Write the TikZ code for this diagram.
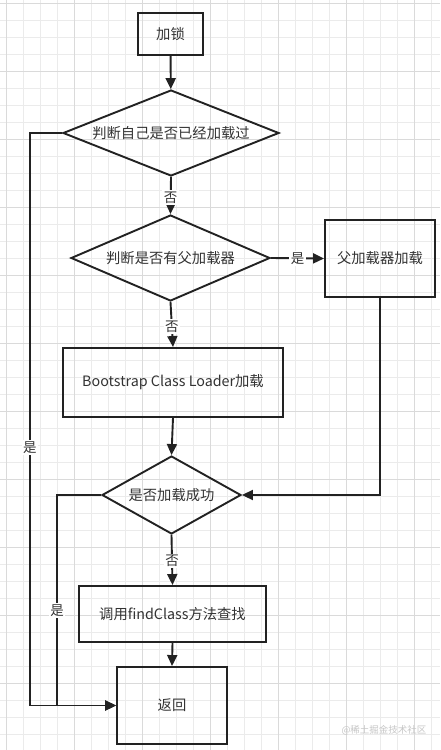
\documentclass[tikz,border=0pt]{standalone}
\usepackage{fontspec}
\setmainfont{Noto Sans CJK SC}
\usetikzlibrary{shapes.geometric,arrows.meta}
\definecolor{ink}{HTML}{222222}
\definecolor{txt}{HTML}{333333}
\definecolor{gridminor}{HTML}{EBEBEB}
\definecolor{gridmajor}{HTML}{DADADA}
\tikzset{
  box/.style={draw=ink,line width=1.9pt,rectangle,inner sep=0pt,text=txt,font=\fontsize{14.3}{17}\selectfont},
  choice/.style={draw=ink,line width=1.9pt,diamond,inner sep=0pt,text=txt,font=\fontsize{14.3}{17}\selectfont},
  flow/.style={draw=ink,line width=1.9pt,-{Triangle[length=11pt,width=10pt]}},
  lbl/.style={fill=white,inner sep=1.5pt,text=txt,font=\fontsize{13.5}{15}\selectfont}
}
\begin{document}
\begin{tikzpicture}[x=1pt,y=-1pt]
\useasboundingbox[fill=white] (0,0) rectangle (440,750);
% background grid
\foreach \k in {0,...,25}
  \draw[gridminor,line width=0.8pt] ({6.7+17*\k},0) -- ({6.7+17*\k},750);
\foreach \k in {0,...,43}
  \draw[gridminor,line width=0.8pt] (0,{3+17*\k}) -- (440,{3+17*\k});
\foreach \k in {0,...,6}
  \draw[gridmajor,line width=0.8pt] ({6.7+68*\k},0) -- ({6.7+68*\k},750);
\foreach \k in {0,...,10}
  \draw[gridmajor,line width=0.8pt] (0,{3+68*\k}) -- (440,{3+68*\k});

% nodes
\node[box,minimum width=65pt,minimum height=42pt] (lock) at (170.5,34) {加锁};
\node[choice,minimum width=216pt,minimum height=86pt,aspect=2.5] (chk) at (171,133) {判断自己是否已经加载过};
\node[choice,minimum width=199pt,minimum height=86pt,aspect=2.3] (par) at (170.5,258) {判断是否有父加载器};
\node[box,minimum width=110pt,minimum height=77pt] (parload) at (380,258.5) {父加载器加载};
\node[box,minimum width=220pt,minimum height=69pt] (boot) at (173,382.5) {Bootstrap Class Loader加载};
\node[choice,minimum width=139pt,minimum height=78pt,aspect=1.78] (ok) at (171.5,495) {是否加载成功};
\node[box,minimum width=187pt,minimum height=56pt] (find) at (172.5,614) {调用findClass方法查找};
\node[box,minimum width=110pt,minimum height=77pt] (ret) at (172,705.5) {返回};
\coordinate (l1) at (30,133);
\coordinate (l2) at (57,495);
\node[text=gray!45,font=\fontsize{9.5}{11}\selectfont] (mark) at (384,730) {@稀土掘金技术社区};

% connectors
\draw[flow] (lock) -- (chk);
\draw[flow] (chk.south) -- node[lbl,pos=0.55] {否} (par.north);
\draw[flow] (par.east) -- node[lbl,pos=0.5] {是} (parload.west);
\draw[flow] (par.south) -- node[lbl,pos=0.55] {否} (boot.north);
\draw[flow] (boot.south) -- (ok.north);
\draw[flow] (parload.south) |- (ok.east);
\draw[flow] (ok.south) -- node[lbl,pos=0.52] {否} (find.north);
\draw[flow] (find.south) -- (ret.north);
\draw[flow] (chk.west) -- (l1) |- node[lbl,pos=0.275] {是} (ret.west);
\draw[flow] (ok.west) -- (l2) |- node[lbl,pos=0.274] {是} (ret.west);
\end{tikzpicture}
\end{document}
